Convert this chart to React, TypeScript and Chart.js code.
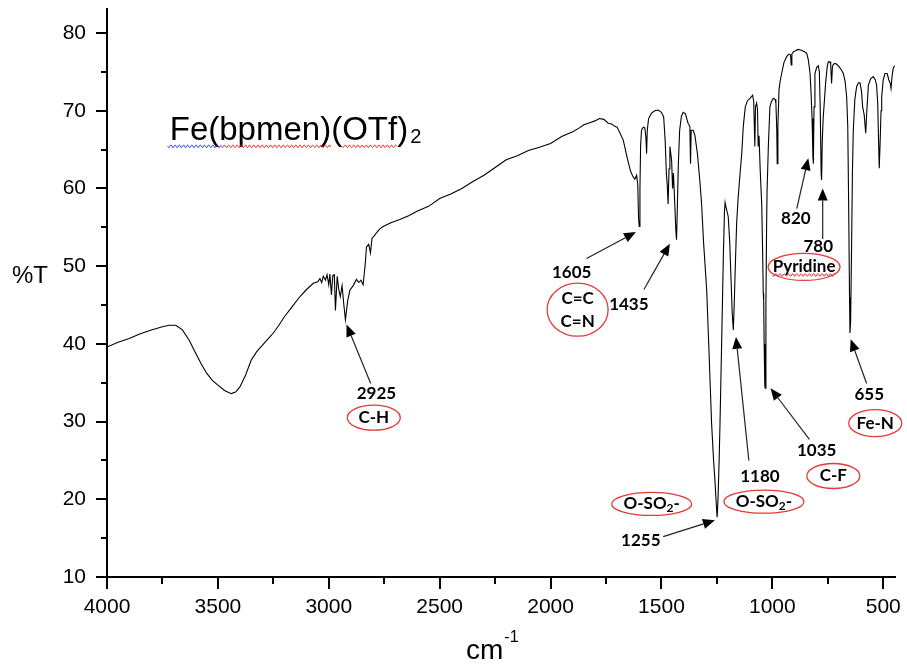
import { useEffect, useRef } from 'react';
import { Chart, registerables } from 'chart.js';
Chart.register(...registerables);

// ---- spectrum data (wavenumber cm-1, %T) ----
const wavenumbers = [
  4000, 3950, 3900, 3850, 3800, 3750, 3720, 3690, 3660, 3630, 3600, 3575, 3550, 3525, 3500, 3470, 3440, 3420, 3400, 3375,
  3350, 3325, 3300, 3275, 3250, 3225, 3200, 3165, 3130, 3100, 3070, 3050, 3040, 3032, 3025, 3015, 3008, 3000, 2995, 2988,
  2982, 2975, 2970, 2962, 2955, 2948, 2940, 2932, 2925, 2915, 2905, 2890, 2875, 2865, 2855, 2845, 2835, 2830, 2820, 2812,
  2805, 2795, 2785, 2770, 2755, 2720, 2680, 2640, 2600, 2550, 2500, 2450, 2400, 2350, 2300, 2250, 2200, 2150, 2100, 2050,
  2000, 1950, 1900, 1870, 1850, 1820, 1800, 1780, 1760, 1740, 1725, 1710, 1700, 1685, 1672, 1655, 1640, 1630, 1620, 1612,
  1607, 1603, 1600, 1597, 1594, 1590, 1582, 1575, 1570, 1567, 1564, 1558, 1545, 1530, 1515, 1500, 1490, 1483, 1478, 1474,
  1470, 1466, 1462, 1458, 1454, 1450, 1446, 1440, 1435, 1432, 1428, 1424, 1418, 1410, 1402, 1392, 1380, 1372, 1369, 1366,
  1357, 1349, 1338, 1327, 1319, 1310, 1296, 1285, 1274, 1265, 1259, 1253, 1249, 1245, 1240, 1236, 1228, 1221, 1216, 1213,
  1209, 1199, 1192, 1186, 1181, 1176, 1172, 1166, 1161, 1155, 1146, 1138, 1131, 1122, 1112, 1101, 1089, 1084, 1079, 1076,
  1071, 1067, 1064, 1060, 1055, 1048, 1044, 1041, 1039, 1037, 1034, 1032, 1029, 1026, 1024, 1018, 1011, 1004, 996, 988,
  984, 980, 978, 975, 970, 965, 958, 948, 935, 925, 918, 915, 912, 905, 898, 885, 868, 855, 845, 838,
  830, 825, 821, 817, 815, 812, 808, 800, 793, 788, 784, 780, 778, 775, 771, 767, 760, 753, 748, 740,
  737, 733, 729, 725, 715, 703, 692, 680, 672, 665, 660, 656, 652, 650, 647, 643, 639, 635, 628, 620,
  612, 605, 598, 593, 586, 579, 574, 567, 557, 545, 536, 530, 525, 521, 518, 514, 510, 507, 500, 492,
  482, 475, 468, 465, 460, 455, 448,
];
const transmittance = [
  39.6, 40.2, 40.7, 41.3, 41.8, 42.2, 42.4, 42.4, 41.8, 40.5, 38.8, 37.4, 36.2, 35.3, 34.7, 34.0, 33.6, 33.8, 34.5, 36.0,
  37.9, 39.0, 39.8, 40.6, 41.4, 42.4, 43.5, 44.8, 46.1, 47.0, 47.8, 48.0, 48.4, 47.9, 48.7, 48.2, 48.9, 47.6, 49.0, 46.3,
  48.8, 48.9, 44.3, 48.7, 47.0, 46.1, 47.5, 45.0, 43.1, 45.5, 46.9, 47.5, 48.3, 47.9, 48.2, 47.6, 50.5, 52.5, 52.8, 51.7,
  53.6, 53.9, 54.3, 54.8, 55.1, 55.6, 56.0, 56.5, 57.1, 57.7, 58.7, 59.3, 60.0, 60.9, 61.7, 62.7, 63.7, 64.2, 64.9, 65.3,
  65.8, 66.7, 67.3, 67.8, 68.2, 68.5, 68.7, 69.0, 68.9, 68.4, 68.3, 68.0, 67.9, 67.0, 66.2, 64.0, 62.3, 61.6, 61.2, 61.7,
  60.5, 56.0, 55.1, 60.0, 65.5, 67.5, 67.9, 67.8, 66.5, 64.5, 67.5, 69.0, 69.7, 70.0, 70.1, 69.8, 69.2, 66.0, 62.0, 60.5,
  58.0, 62.5, 65.4, 64.5, 63.5, 60.0, 62.0, 58.0, 54.5, 53.4, 58.0, 63.0, 67.5, 69.3, 69.8, 69.6, 68.4, 68.0, 63.2, 67.5,
  67.5, 66.8, 64.5, 61.0, 58.0, 53.0, 46.9, 38.5, 29.8, 25.0, 22.5, 19.5, 17.7, 20.0, 25.0, 29.8, 41.0, 51.2, 57.0, 58.2,
  57.6, 56.4, 53.0, 48.0, 44.0, 41.8, 45.0, 51.0, 55.5, 58.5, 61.8, 64.5, 68.0, 70.5, 71.3, 71.6, 72.0, 71.2, 65.4, 70.5,
  71.0, 70.2, 65.4, 66.8, 62.5, 58.0, 52.0, 46.5, 45.6, 40.0, 34.6, 34.3, 45.0, 55.0, 59.5, 65.5, 70.5, 71.2, 71.6, 71.5,
  71.0, 67.5, 63.2, 68.0, 72.7, 73.8, 74.8, 76.2, 77.0, 77.3, 77.2, 75.9, 77.3, 77.6, 77.7, 77.9, 77.8, 77.6, 77.4, 76.6,
  74.8, 72.0, 69.0, 64.0, 63.2, 70.5, 74.8, 75.6, 75.8, 75.0, 70.0, 62.0, 61.1, 66.0, 69.0, 70.6, 73.5, 75.6, 76.3, 76.3,
  76.0, 73.5, 75.7, 76.0, 76.1, 75.8, 75.4, 74.8, 73.8, 71.8, 68.0, 58.0, 46.0, 41.4, 43.0, 52.0, 62.0, 67.5, 71.5, 73.1,
  73.6, 73.6, 72.5, 70.5, 69.5, 67.1, 70.0, 73.3, 74.1, 74.4, 74.0, 73.3, 71.0, 66.0, 62.6, 66.0, 70.0, 71.8, 74.0, 74.8,
  74.8, 74.0, 73.5, 72.9, 74.5, 75.5, 75.8,
];

// ---- axes ----
const xMajorTicks = [4000, 3500, 3000, 2500, 2000, 1500, 1000, 500];
const xMinorTicks = [3750, 3250, 2750, 2250, 1750, 1250, 750];
const yMajorTicks = [10, 20, 30, 40, 50, 60, 70, 80];
const yMinorTicks = [15, 25, 35, 45, 55, 65, 75];
const X_MIN = 447;
const X_MAX = 4000;
const Y_MIN = 10;
const Y_MAX = 83.1;

// ---- annotations (data coordinates) ----
const peakLabels = [
  { text: '2925', wn: 2785, t: 33.6 },
  { text: '1605', wn: 1905, t: 49.2 },
  { text: '1435', wn: 1647, t: 45.1 },
  { text: '820', wn: 894, t: 56.2 },
  { text: '780', wn: 793, t: 52.5 },
  { text: '655', wn: 563, t: 33.5 },
  { text: '1035', wn: 800, t: 26.3 },
  { text: '1180', wn: 1056, t: 22.9 },
  { text: '1255', wn: 1593, t: 14.7 },
];
const arrows = [
  { from: [2811, 34.9], to: [2920, 42.5] },
  { from: [1838, 51.0], to: [1615, 54.4] },
  { from: [1579, 47.0], to: [1462, 52.9] },
  { from: [890, 57.4], to: [838, 63.9] },
  { from: [773, 53.5], to: [773, 60.0] },
  { from: [575, 34.9], to: [647, 40.6] },
  { from: [833, 27.7], to: [1008, 34.3] },
  { from: [1106, 25.0], to: [1164, 40.9] },
  { from: [1492, 15.2], to: [1259, 17.3] },
];
type Seg = { t: string; sub?: boolean };
const osoLine: Seg[] = [{ t: 'O-SO' }, { t: '2', sub: true }, { t: '-' }];
const groupLabels: { lines: Seg[][]; wn: number; t: number; w: number; h: number; wavy?: boolean }[] = [
  { lines: [[{ t: 'C-H' }]], wn: 2797, t: 30.5, w: 53, h: 25 },
  { lines: [[{ t: 'C=C' }], [{ t: 'C=N' }]], wn: 1878, t: 44.4, w: 61, h: 53 },
  { lines: [[{ t: 'Pyridine' }]], wn: 857, t: 49.9, w: 72, h: 27, wavy: true },
  { lines: [[{ t: 'Fe-N' }]], wn: 536, t: 29.8, w: 53, h: 27 },
  { lines: [[{ t: 'C-F' }]], wn: 725, t: 23.0, w: 53, h: 25 },
  { lines: [osoLine], wn: 1038, t: 19.7, w: 80, h: 23 },
  { lines: [osoLine], wn: 1544, t: 19.4, w: 80, h: 23 },
];
const titleParts = { main: 'Fe(bpmen)(OTf)', sub: '2', wn: 3717, t: 66.2 };

const AXIS_FONT = '"Liberation Sans", Arial, sans-serif';
const LABEL_FONT = 'Lato, "Open Sans", sans-serif';

function wavyLine(ctx: CanvasRenderingContext2D, x0: number, x1: number, y: number, color: string) {
  ctx.save();
  ctx.strokeStyle = color;
  ctx.lineWidth = 1;
  ctx.beginPath();
  for (let x = x0; x <= x1; x += 0.5) {
    const yy = y + 1.3 * Math.sin(((x - x0) / 4.2) * 2 * Math.PI);
    if (x === x0) ctx.moveTo(x, yy);
    else ctx.lineTo(x, yy);
  }
  ctx.stroke();
  ctx.restore();
}

function drawRich(ctx: CanvasRenderingContext2D, segs: Seg[], cx: number, cy: number) {
  const main = `bold 17px ${LABEL_FONT}`;
  const small = `bold 12px ${LABEL_FONT}`;
  let total = 0;
  const widths = segs.map((s) => {
    ctx.font = s.sub ? small : main;
    const w = ctx.measureText(s.t).width;
    total += w;
    return w;
  });
  let x = cx - total / 2;
  ctx.textAlign = 'left';
  ctx.textBaseline = 'middle';
  segs.forEach((s, i) => {
    ctx.font = s.sub ? small : main;
    ctx.fillText(s.t, x, s.sub ? cy + 4 : cy);
    x += widths[i];
  });
  return total;
}

const zeroPadding = (s: any) => {
  s.paddingTop = 0;
  s.paddingBottom = 0;
  s.paddingLeft = 0;
  s.paddingRight = 0;
};

const decorPlugin = {
  id: 'decor',
  afterDraw(chart: any) {
    const { ctx, scales, chartArea } = chart;
    const xs = scales.x;
    const ys = scales.y;
    const px = (v: number) => xs.getPixelForValue(v);
    const py = (v: number) => ys.getPixelForValue(v);
    ctx.save();
    // ticks
    ctx.strokeStyle = '#000';
    ctx.lineWidth = 2;
    ctx.beginPath();
    xMajorTicks.forEach((v) => {
      const x = Math.round(px(v));
      ctx.moveTo(x, chartArea.bottom);
      ctx.lineTo(x, chartArea.bottom + 12);
    });
    xMinorTicks.forEach((v) => {
      const x = Math.round(px(v));
      ctx.moveTo(x, chartArea.bottom);
      ctx.lineTo(x, chartArea.bottom + 7);
    });
    yMajorTicks.forEach((v) => {
      const y = Math.round(py(v));
      ctx.moveTo(chartArea.left - 11, y);
      ctx.lineTo(chartArea.left, y);
    });
    yMinorTicks.forEach((v) => {
      const y = Math.round(py(v));
      ctx.moveTo(chartArea.left - 6, y);
      ctx.lineTo(chartArea.left, y);
    });
    ctx.stroke();

    // axis titles
    ctx.fillStyle = '#000';
    ctx.font = `24px ${AXIS_FONT}`;
    ctx.textAlign = 'left';
    ctx.textBaseline = 'alphabetic';
    ctx.fillText('%T', 12, 283);
    ctx.font = `28px ${AXIS_FONT}`;
    ctx.fillText('cm', 466, 659);
    const cmw = ctx.measureText('cm').width;
    ctx.font = `16px ${AXIS_FONT}`;
    ctx.fillText('-1', 466 + cmw + 1, 642);

    // title
    const tx = px(titleParts.wn);
    const ty = py(titleParts.t);
    ctx.font = `33px ${AXIS_FONT}`;
    ctx.fillText(titleParts.main, tx, ty);
    const wFe = ctx.measureText('Fe(').width;
    const wBp = ctx.measureText('Fe(bpmen)').width;
    const wO = ctx.measureText('Fe(bpmen)(').width;
    const wOTf = ctx.measureText('Fe(bpmen)(OTf').width;
    const wAll = ctx.measureText(titleParts.main).width;
    ctx.font = `20px ${AXIS_FONT}`;
    ctx.fillText(titleParts.sub, tx + wAll + 2, ty + 3);
    wavyLine(ctx, tx - 2, tx + wFe + 2, ty + 6, '#2030e0');
    wavyLine(ctx, tx + wFe + 2, tx + wBp, ty + 6, '#e82020');
    wavyLine(ctx, tx + wO, tx + wOTf, ty + 6, '#e82020');

    // arrows
    ctx.strokeStyle = '#222';
    ctx.fillStyle = '#000';
    ctx.lineWidth = 1.2;
    arrows.forEach((a) => {
      const x0 = px(a.from[0]);
      const y0 = py(a.from[1]);
      const x1 = px(a.to[0]);
      const y1 = py(a.to[1]);
      const ang = Math.atan2(y1 - y0, x1 - x0);
      const hl = 12;
      const hw = 5;
      const bx = x1 - hl * Math.cos(ang);
      const by = y1 - hl * Math.sin(ang);
      ctx.beginPath();
      ctx.moveTo(x0, y0);
      ctx.lineTo(bx, by);
      ctx.stroke();
      ctx.beginPath();
      ctx.moveTo(x1, y1);
      ctx.lineTo(bx + hw * Math.sin(ang), by - hw * Math.cos(ang));
      ctx.lineTo(bx - hw * Math.sin(ang), by + hw * Math.cos(ang));
      ctx.closePath();
      ctx.fill();
    });

    // peak labels
    ctx.fillStyle = '#000';
    peakLabels.forEach((l) => {
      drawRich(ctx, [{ t: l.text }], px(l.wn), py(l.t));
    });

    // group labels with red ellipses
    groupLabels.forEach((g) => {
      const cx = px(g.wn);
      const cy = py(g.t);
      ctx.save();
      ctx.strokeStyle = '#e53935';
      ctx.lineWidth = 1.3;
      ctx.beginPath();
      ctx.ellipse(cx, cy, g.w / 2, g.h / 2, 0, 0, Math.PI * 2);
      ctx.stroke();
      ctx.restore();
      ctx.fillStyle = '#000';
      const n = g.lines.length;
      g.lines.forEach((ln, i) => {
        const ly = cy + (i - (n - 1) / 2) * 23;
        const w = drawRich(ctx, ln, cx, ly);
        if (g.wavy) wavyLine(ctx, cx - w / 2, cx + w / 2, ly + 8, '#e82020');
      });
    });
    ctx.restore();
  },
};

export default function App() {
  const ref = useRef<HTMLCanvasElement>(null);
  useEffect(() => {
    if (!ref.current) return;
    const data = wavenumbers.map((x, i) => ({ x, y: transmittance[i] }));
    const chart = new Chart(ref.current, {
      type: 'line',
      data: {
        datasets: [
          {
            data,
            borderColor: '#000',
            borderWidth: 1.1,
            pointRadius: 0,
            tension: 0,
            fill: false,
          },
        ],
      },
      options: {
        animation: false,
        responsive: false,
        events: [],
        layout: { padding: { left: 0, right: 12, top: 9, bottom: 0 } },
        plugins: { legend: { display: false }, tooltip: { enabled: false }, title: { display: false } },
        scales: {
          x: {
            type: 'linear',
            reverse: true,
            min: X_MIN,
            max: X_MAX,
            afterBuildTicks: (s: any) => {
              s.ticks = xMajorTicks.map((value) => ({ value }));
            },
            afterFit: (s: any) => {
              s.height = 90;
              zeroPadding(s);
            },
            grid: { display: false, drawTicks: false },
            border: { display: true, color: '#000', width: 2 },
            ticks: {
              padding: 18,
              color: '#000',
              font: { family: AXIS_FONT, size: 21 },
              maxRotation: 0,
              autoSkip: false,
              callback: (v: any) => String(v),
            },
          },
          y: {
            type: 'linear',
            min: Y_MIN,
            max: Y_MAX,
            afterBuildTicks: (s: any) => {
              s.ticks = yMajorTicks.map((value) => ({ value }));
            },
            afterFit: (s: any) => {
              s.width = 107;
              zeroPadding(s);
            },
            grid: { display: false, drawTicks: false },
            border: { display: true, color: '#000', width: 2 },
            ticks: {
              padding: 21,
              color: '#000',
              font: { family: AXIS_FONT, size: 21 },
              autoSkip: false,
              callback: (v: any) => String(v),
            },
          },
        },
      },
      plugins: [decorPlugin],
    });
    return () => chart.destroy();
  }, []);
  return (
    <div style={{ position: 'fixed', left: 0, top: 0, width: 907, height: 667, background: '#fff' }}>
      <canvas ref={ref} width={907} height={667} style={{ display: 'block' }} />
    </div>
  );
}
